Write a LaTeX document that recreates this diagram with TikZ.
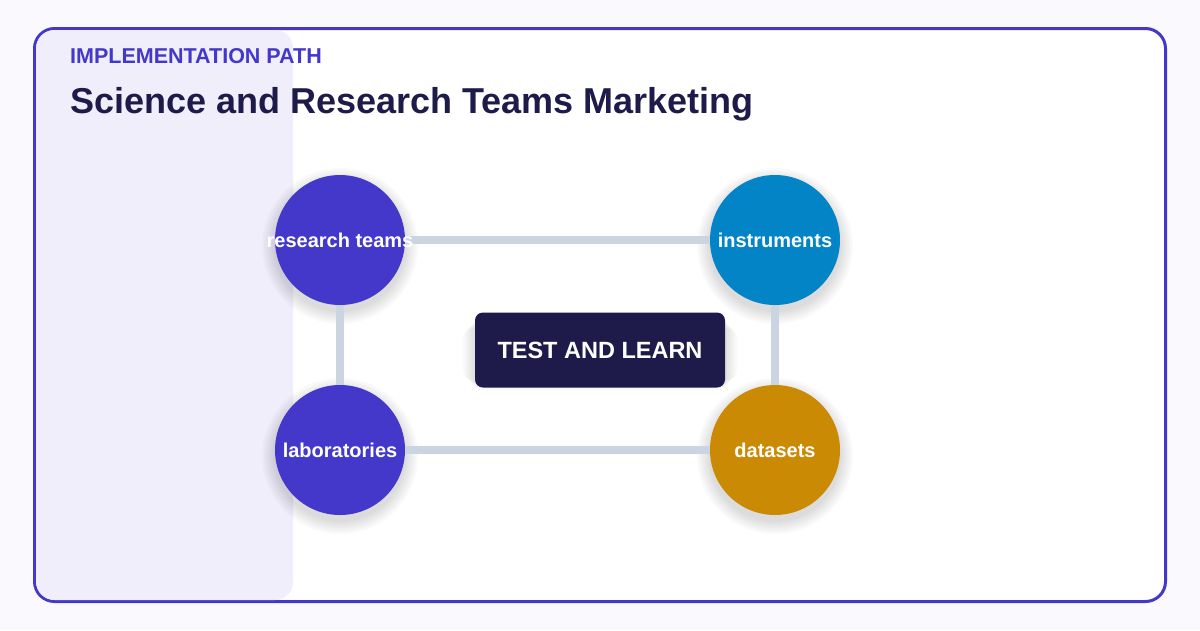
\documentclass[tikz,border=0pt]{standalone}
\usepackage{fontspec}
\setmainfont{Liberation Sans}
\usetikzlibrary{backgrounds}
\definecolor{pagebg}{HTML}{FAFAFE}
\definecolor{indigo}{HTML}{4338CA}
\definecolor{navy}{HTML}{1E1B4B}
\definecolor{sky}{HTML}{0284C7}
\definecolor{amber}{HTML}{CA8A04}
\definecolor{panel}{HTML}{EFEEFA}
\definecolor{link}{HTML}{CBD5E1}
\begin{document}
\begin{tikzpicture}[x=1pt,y=-1pt,line cap=round,line join=round,
    hub/.style={circle,minimum size=130pt,inner sep=0pt,
      label={[hubtext]center:#1}},
    hubtext/.style={text=white,inner sep=0pt,font=\fontsize{20}{24}\selectfont\bfseries},
    core/.style={rounded corners=8pt,fill=navy,text=white,minimum width=250pt,
      minimum height=75pt,font=\fontsize{23.5}{28}\selectfont\bfseries},
    link/.style={draw=link,line width=8pt,line cap=butt},
    shade/.style={fill=black,opacity=.018}]
  \useasboundingbox (0,0) rectangle (1200,630);
  \node[anchor=base west,text=indigo,inner sep=0pt,
    font=\fontsize{21.5}{26}\selectfont\bfseries] (kicker) at (70,63) {IMPLEMENTATION PATH};
  \node[anchor=base west,text=navy,inner sep=0pt,
    font=\fontsize{36}{42}\selectfont\bfseries] (title) at (70,113) {Science and Research Teams Marketing};
  \node[hub=research teams,fill=indigo] (rt) at (340,240) {};
  \node[hub=instruments,fill=sky] (ins) at (775,240) {};
  \node[hub=laboratories,fill=indigo] (lab) at (340,450) {};
  \node[hub=datasets,fill=amber] (ds) at (775,450) {};
  \node[core] (tl) at (600,350) {TEST AND LEARN};
  \begin{scope}[on background layer]
    \fill[pagebg] (0,0) rectangle (1200,630);
    \draw[indigo,line width=3pt,fill=white,rounded corners=20pt] (34.5,28.5) rectangle (1165.5,601.5);
    \begin{scope}
      \clip[rounded corners=18.5pt] (36,30) rectangle (1164,600);
      \fill[panel,rounded corners=18pt] (0,30) rectangle (293,600);
    \end{scope}
    % soft shadows
    \foreach \n in {rt,ins,lab,ds}{
      \foreach \r in {66,68,...,78}{
        \fill[shade] ([yshift=-6pt]\n.center) circle (\r pt);
      }
    }
    \foreach \d in {2,4,...,12}{
      \fill[shade,rounded corners=10pt] ([shift={(-\d,-\d+4)}]tl.south west) rectangle ([shift={(\d,\d+4)}]tl.north east);
    }
    \draw[link] (rt) -- (ins);
    \draw[link] (lab) -- (ds);
    \draw[link] (rt) -- (lab);
    \draw[link] (ins) -- (ds);
  \end{scope}
\end{tikzpicture}
\end{document}
